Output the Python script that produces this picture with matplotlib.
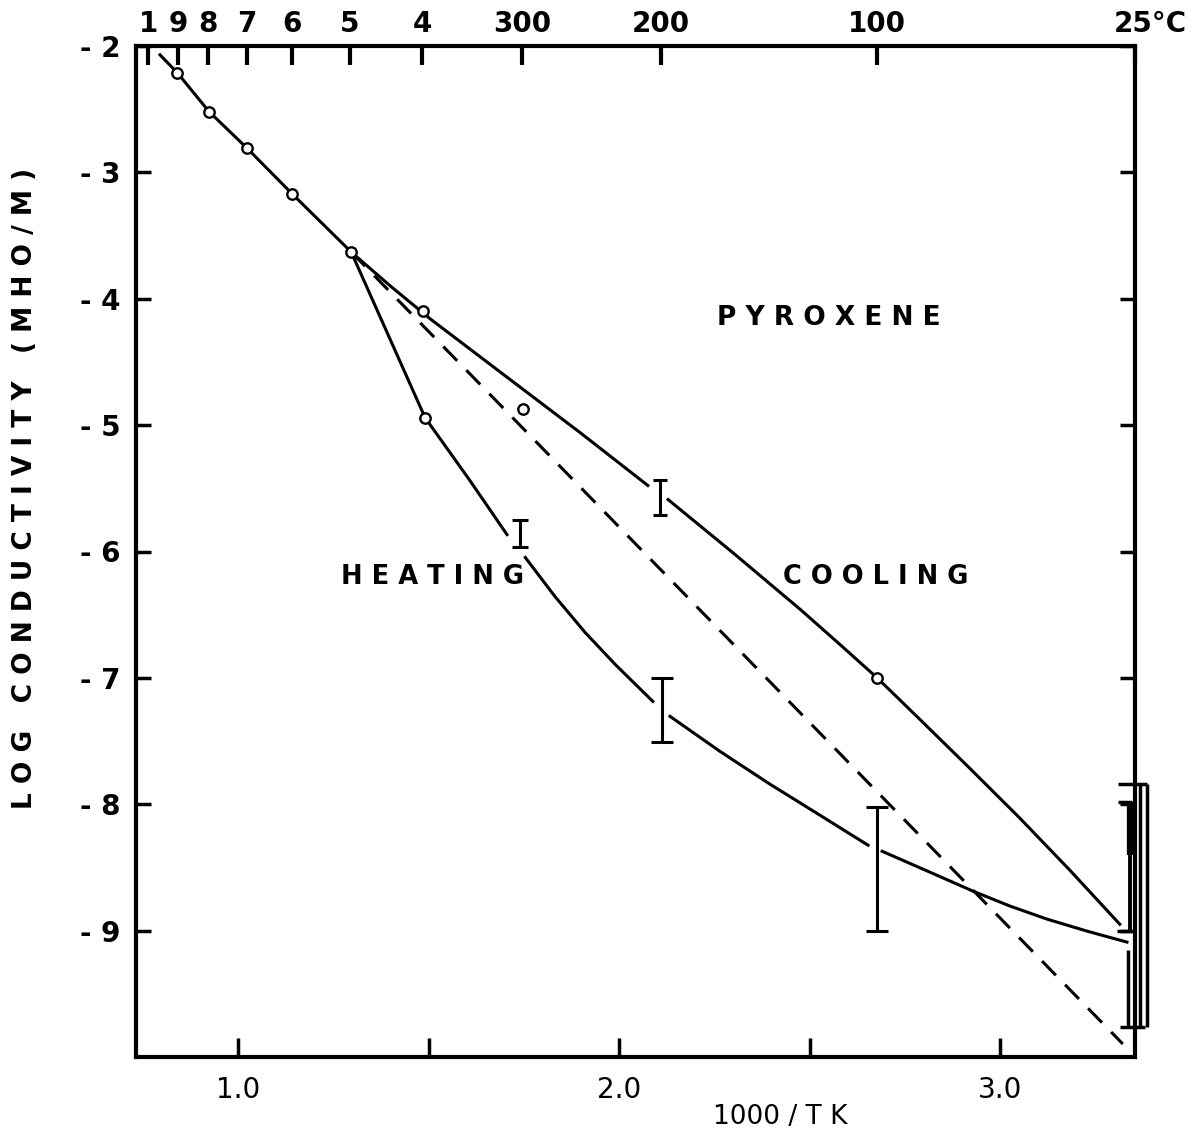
import matplotlib.pyplot as plt
import numpy as np

# Werte (x = 1000/T in 1/K, y = log Leitfaehigkeit)
cool_pts_x = [0.839, 0.923, 1.023, 1.141, 1.296, 1.485, 1.747, 2.677]
cool_pts_y = [-2.21, -2.52, -2.81, -3.17, -3.63, -4.10, -4.87, -7.00]
heat_pts_x = [1.490]
heat_pts_y = [-4.94]

# Kurven (nan = Luecke an einem Fehlerbalken)
cool_x = [0.794, 0.839, 0.923, 1.023, 1.141, 1.296, 1.398, 1.503, 1.700, 1.897, 2.075, np.nan,
          2.128, 2.304, 2.475, 2.579, 2.677, 2.789, 2.920, 3.052, 3.183, 3.314]
cool_y = [-2.07, -2.21, -2.52, -2.81, -3.17, -3.63, -3.897, -4.158, -4.609, -5.059, -5.478, np.nan,
          -5.589, -6.024, -6.458, -6.735, -7.00, -7.328, -7.715, -8.111, -8.522, -8.949]
heat_x = [1.296, 1.490, 1.606, 1.705, np.nan,
          1.753, 1.831, 1.910, 1.989, 2.088, np.nan,
          2.133, 2.264, 2.396, 2.527, 2.653, np.nan,
          2.690, 2.816, 2.929, 3.026, 3.123, 3.228, 3.333]
heat_y = [-3.63, -4.941, -5.431, -5.866, np.nan,
          -6.047, -6.356, -6.640, -6.893, -7.186, np.nan,
          -7.304, -7.581, -7.842, -8.087, -8.324, np.nan,
          -8.372, -8.538, -8.688, -8.806, -8.909, -9.004, -9.091]
dash_x = [1.296, 3.322]
dash_y = [-3.63, -9.897]

# Fehlerbalken
err_x = [1.739, 2.107, 2.112, 2.677]
err_lo = [-5.968, -5.715, -7.510, -9.004]
err_hi = [-5.747, -5.431, -7.004, -8.024]
err_cap = [6, 5, 8, 8]

# Fehlerbalken bei 25 Grad C
b25_x = [3.341, 3.341, 3.336, 3.367, 3.385]
b25_lo = [-8.40, -9.00, -9.76, -9.76, -9.76]
b25_hi = [-7.98, -8.40, -9.15, -7.84, -7.84]
b25_lw = [4.5, 2.8, 2.5, 2.5, 2.5]
cap25_y = [-7.84, -7.98, -9.00, -9.76]
cap25_x0 = [3.310, 3.310, 3.307, 3.315]
cap25_x1 = [3.385, 3.346, 3.346, 3.380]

# Achsen
bottom_ticks = [1.0, 1.5, 2.0, 2.5, 3.0]
bottom_labels = ['1.0', '', '2.0', '', '3.0']
left_ticks = [-9, -8, -7, -6, -5, -4, -3, -2]
left_labels = ['- 9', '- 8', '- 7', '- 6', '- 5', '- 4', '- 3', '- 2']
top_ticks = [0.763, 0.842, 0.921, 1.023, 1.141, 1.293, 1.482, 1.745, 2.110, 2.677, 3.354]
top_labels = ['1', '9', '8', '7', '6', '5', '4', '300', '200', '100', '']

W, H = 1201, 1136
fig = plt.figure(figsize=(W / 100, H / 100), dpi=100)
ax = fig.add_axes([136 / W, 1 - 1057 / H, (1135 - 136) / W, (1057 - 46) / H])
ax.set_xlim(0.731, 3.354)
ax.set_ylim(-10, -2)

lw = 2.2
ax.plot(cool_x, cool_y, 'k-', lw=lw, zorder=3)
ax.plot(heat_x, heat_y, 'k-', lw=lw, zorder=3)
ax.plot(dash_x, dash_y, 'k-', lw=lw, dashes=(6.5, 4.3), zorder=2)
ax.plot(cool_pts_x, cool_pts_y, 'o', ms=7.5, mfc='white', mec='black', mew=1.7, zorder=4)
ax.plot(heat_pts_x, heat_pts_y, 'o', ms=7.5, mfc='white', mec='black', mew=1.7, zorder=4)

for x, lo, hi, cs in zip(err_x, err_lo, err_hi, err_cap):
    c = (lo + hi) / 2
    ax.errorbar([x], [c], yerr=[[c - lo], [hi - c]], fmt='none', ecolor='black',
                elinewidth=2.2, capsize=cs, capthick=2.2, zorder=3)

for x, lo, hi, w in zip(b25_x, b25_lo, b25_hi, b25_lw):
    ax.vlines(x, lo, hi, colors='black', lw=w, clip_on=False, zorder=3)
for y, x0, x1 in zip(cap25_y, cap25_x0, cap25_x1):
    ax.hlines(y, x0, x1, colors='black', lw=2.5, clip_on=False, zorder=3)

# Beschriftungen im Diagramm
ax.text(2.551, -4.15, 'P Y R O X E N E', fontsize=19, fontweight='bold', ha='center', va='center')
ax.text(1.509, -6.205, 'H E A T I N G', fontsize=18.5, fontweight='bold', ha='center', va='center')
ax.text(2.674, -6.205, 'C O O L I N G', fontsize=18.5, fontweight='bold', ha='center', va='center')

for s in ax.spines.values():
    s.set_linewidth(3)

ax.set_xticks(bottom_ticks)
ax.set_xticklabels(bottom_labels, fontsize=20)
ax.set_yticks(left_ticks)
ax.set_yticklabels(left_labels, fontsize=20, fontweight='bold')
ax.tick_params(axis='x', direction='in', length=14, width=2.5, pad=14)
ax.tick_params(axis='y', direction='in', length=11, width=2.5, pad=11, right=True)

ax2 = ax.twiny()
ax2.set_xlim(ax.get_xlim())
ax2.set_xticks(top_ticks)
ax2.set_xticklabels(top_labels, fontsize=20, fontweight='bold')
ax2.tick_params(axis='x', direction='in', length=14, width=3, pad=6)
for s in ax2.spines.values():
    s.set_visible(False)
ax2.annotate('25°C', xy=(3.354, 1.0), xycoords=('data', 'axes fraction'),
             xytext=(11, 6), textcoords='offset points', fontsize=20, fontweight='bold',
             ha='center', va='bottom')

fig.text(25 / W, 1 - 488 / H, 'L O G   C O N D U C T I V I T Y   ( M H O / M )',
         rotation=90, fontsize=19, fontweight='bold', ha='center', va='center')
fig.text(780 / W, 1 - 1117 / H, '1000 / T K', fontsize=19, ha='center', va='center')

fig.savefig('out.png', dpi=100)
